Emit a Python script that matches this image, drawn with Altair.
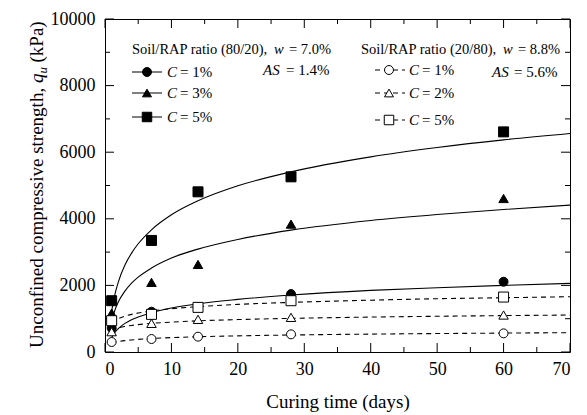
import altair as alt
import pandas as pd

# ---- measured data ----
days = [1, 7, 14, 28, 60]
c1_8020 = [720, 1210, 1350, 1740, 2110]
c3_8020 = [1170, 2090, 2630, 3840, 4610]
c5_8020 = [1540, 3350, 4810, 5260, 6610]
c1_2080 = [300, 390, 460, 530, 560]
c2_2080 = [610, 860, 980, 1040, 1110]
c5_2080 = [940, 1130, 1340, 1540, 1650]

# ---- fitted curves ----
t_fit = [1, 1.5, 2, 3, 4, 5, 7, 10, 14, 20, 28, 40, 50, 60, 70]
fit_c5_8020 = [1230, 1740, 2100, 2610, 2970, 3250, 3670, 4120, 4540, 4990, 5410, 5860, 6140, 6370, 6560]
fit_c3_8020 = [930, 1260, 1500, 1830, 2070, 2250, 2520, 2820, 3090, 3380, 3660, 3950, 4130, 4280, 4410]
fit_c1_8020 = [440, 590, 700, 860, 970, 1050, 1180, 1320, 1450, 1580, 1710, 1850, 1930, 2000, 2060]
fit_c5_2080 = [870, 945, 1000, 1075, 1130, 1170, 1230, 1300, 1360, 1430, 1490, 1556, 1600, 1630, 1660]
fit_c2_2080 = [647, 690, 723, 767, 798, 822, 859, 898, 935, 974, 1010, 1049, 1073, 1093, 1110]
fit_c1_2080 = [257, 288, 310, 341, 362, 379, 405, 432, 458, 485, 510, 537, 554, 568, 580]

x_major = [0, 10, 20, 30, 40, 50, 60, 70]
x_minor = [5, 15, 25, 35, 45, 55, 65]
y_major = [0, 2000, 4000, 6000, 8000, 10000]
y_minor = [1000, 3000, 5000, 7000, 9000]

W, H = 465, 333
OX, OY = 105, 19
FONT = "Liberation Serif"

xs = alt.Scale(domain=[0, 70], nice=False, zero=False)
ys = alt.Scale(domain=[0, 10000], nice=False)

x_axis = alt.Axis(values=x_major, format="d", ticks=False, tickSize=0, domain=False, grid=False,
                  labelFont=FONT, labelFontSize=18, labelColor="black", labelPadding=8,
                  title="Curing time (days)", titleFont=FONT, titleFontSize=19,
                  titleFontWeight="normal", titleColor="black", titlePadding=14)
y_axis = alt.Axis(values=y_major, format="d", ticks=False, tickSize=0, domain=False, grid=False,
                  labelFont=FONT, labelFontSize=18, labelColor="black", labelPadding=10,
                  title="")


def pts(vals, shape, filled, size):
    df = pd.DataFrame({"t": days, "q": vals})
    return alt.Chart(df).mark_point(shape=shape, filled=True, size=size,
                                    fill="black" if filled else "white",
                                    stroke="black", strokeWidth=1, opacity=1).encode(
        x=alt.X("t:Q", scale=xs, axis=x_axis), y=alt.Y("q:Q", scale=ys, axis=y_axis))


def curve(vals, dashed):
    df = pd.DataFrame({"t": t_fit, "q": vals})
    kw = dict(color="black", strokeWidth=1.1, interpolate="monotone")
    if dashed:
        kw["strokeDash"] = [5, 4]
    return alt.Chart(df).mark_line(**kw).encode(
        x=alt.X("t:Q", scale=xs, axis=x_axis), y=alt.Y("q:Q", scale=ys, axis=y_axis))


def ticks_x(vals, length):
    df = pd.DataFrame({"t": vals})
    b = alt.Chart(df).mark_rule(color="black", strokeWidth=1).encode(
        x=alt.X("t:Q", scale=xs, axis=x_axis), y=alt.value(H), y2=alt.value(H - length))
    t = alt.Chart(df).mark_rule(color="black", strokeWidth=1).encode(
        x=alt.X("t:Q", scale=xs, axis=x_axis), y=alt.value(0), y2=alt.value(length))
    return b + t


def ticks_y(vals, length):
    df = pd.DataFrame({"q": vals})
    l = alt.Chart(df).mark_rule(color="black", strokeWidth=1).encode(
        y=alt.Y("q:Q", scale=ys, axis=y_axis), x=alt.value(0), x2=alt.value(length))
    r = alt.Chart(df).mark_rule(color="black", strokeWidth=1).encode(
        y=alt.Y("q:Q", scale=ys, axis=y_axis), x=alt.value(W), x2=alt.value(W - length))
    return l + r


one = pd.DataFrame({"a": [0]})


def txt(s, x, y, italic=False, size=15, angle=0, baseline="middle"):
    kw = dict(text=s, align="left", baseline=baseline, font=FONT, fontSize=size, color="black",
              fontStyle="italic" if italic else "normal")
    if angle:
        kw["angle"] = angle
    return alt.Chart(one).mark_text(**kw).encode(x=alt.value(x - OX), y=alt.value(y - OY))


def leg_line(x1, x2, y, dashed):
    kw = dict(color="black", strokeWidth=1)
    if dashed:
        kw["strokeDash"] = [5, 4]
    return alt.Chart(one).mark_rule(**kw).encode(
        x=alt.value(x1 - OX), x2=alt.value(x2 - OX), y=alt.value(y - OY))


def leg_pt(x, y, shape, filled, size):
    return alt.Chart(one).mark_point(shape=shape, filled=True, size=size,
                                     fill="black" if filled else "white",
                                     stroke="black", strokeWidth=1, opacity=1).encode(
        x=alt.value(x - OX), y=alt.value(y - OY))


layers = [
    ticks_x(x_major, 9), ticks_x(x_minor, 5), ticks_y(y_major, 9), ticks_y(y_minor, 5),
    curve(fit_c5_8020, False), curve(fit_c3_8020, False), curve(fit_c1_8020, False),
    curve(fit_c5_2080, True), curve(fit_c2_2080, True), curve(fit_c1_2080, True),
    pts(c1_8020, "circle", True, 80), pts(c3_8020, "triangle-up", True, 90),
    pts(c5_8020, "square", True, 100),
    pts(c5_2080, "square", False, 100), pts(c2_2080, "triangle-up", False, 90),
    pts(c1_2080, "circle", False, 80),
]

# y axis title built from pieces (italic q with subscript u)
TB = 43  # baseline x (absolute)
layers += [
    txt("Unconfined compressive strength,", TB, 348, size=19, angle=270, baseline="alphabetic"),
    txt("q", TB, 83, italic=True, size=19, angle=270, baseline="alphabetic"),
    txt("u", TB + 4, 73.5, italic=True, size=13, angle=270, baseline="alphabetic"),
    txt("(kPa)", TB, 62.5, size=19, angle=270, baseline="alphabetic"),
]

HS = 14.5  # header font size
# legend (left group)
layers += [
    txt("Soil/RAP ratio (80/20),", 132, 50, size=HS), txt("w", 274, 50, True, size=HS),
    txt("= 7.0%", 289, 50, size=HS),
    txt("AS", 263, 70, True), txt("= 1.4%", 286, 70),
]
for y, shape, lab in [(72, "circle", "= 1%"), (93, "triangle-up", "= 3%"), (117, "square", "= 5%")]:
    layers += [leg_line(132, 162, y, False), leg_pt(147, y, shape, True, 90 if shape == "square" else 80),
               txt("C", 167, y, True), txt(lab, 180, y)]

# legend (right group)
layers += [
    txt("Soil/RAP ratio (20/80),", 361, 50, size=HS), txt("w", 503, 50, True, size=HS),
    txt("= 8.8%", 518, 50, size=HS),
    txt("AS", 492, 72, True), txt("= 5.6%", 514, 72),
]
for y, shape, lab in [(70, "circle", "= 1%"), (93, "triangle-up", "= 2%"), (120, "square", "= 5%")]:
    layers += [leg_line(375, 405, y, True), leg_pt(389, y, shape, False, 90 if shape == "square" else 80),
               txt("C", 409, y, True), txt(lab, 422, y)]

chart = alt.layer(*layers).properties(
    width=W, height=H,
    autosize=alt.AutoSizeParams(type="none"),
    padding={"left": OX, "top": OY, "right": 587 - OX - W, "bottom": 415 - OY - H},
    background="white",
).configure_view(stroke="black", strokeWidth=1)

chart.save("out.html", embed_options={"renderer": "svg", "actions": False})
